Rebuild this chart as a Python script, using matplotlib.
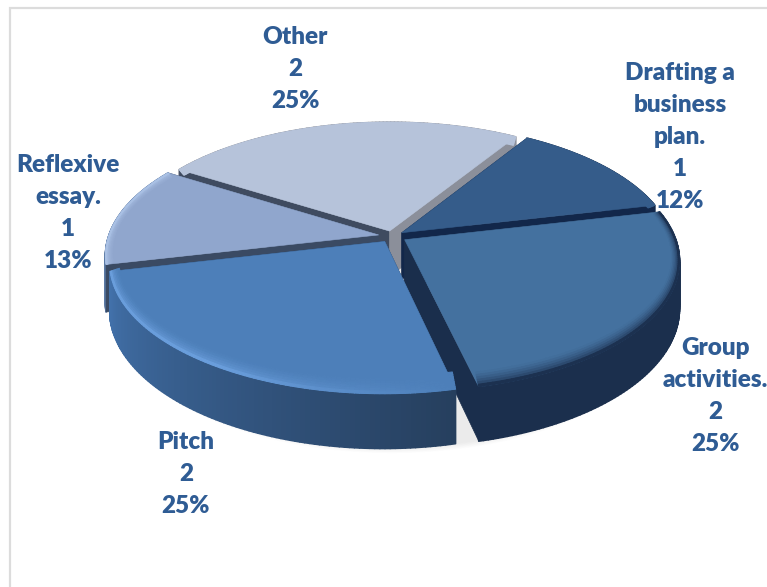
import numpy as np
import matplotlib
matplotlib.use("Agg")
import matplotlib.pyplot as plt
from matplotlib.collections import PolyCollection
from matplotlib.colors import to_rgb
from matplotlib.patches import Polygon

# slices clockwise, starting from the Other/Drafting boundary
names = ["Drafting a\nbusiness\nplan.", "Group\nactivities.", "Pitch", "Reflexive\nessay.", "Other"]
counts = [1, 2, 2, 1, 2]
percents = ["12%", "25%", "25%", "13%", "25%"]

START = 32.0      # degrees clockwise from the back of the pie
CX, CY = 392, 236
A, B, K = 270, 127, 0.154
DEPTH = 46
BEVEL_U, BEVEL_V = 0.03, 0.1
TEXT = "#2f5c94"

explode = [0.045, 0.055, 0.05, 0.05, 0.04]
# colours per slice: top, bevel at rim, wall start, wall end, radial wall
styles = [
    ("#355c8a", "#355c8a", "#1d3554", "#1d3554", "#12274a"),
    ("#44719f", "#1c3150", "#1b2f4d", "#1b2f4d", "#1a2e4c"),
    ("#4d7fb9", "#6a9edc", "#4271aa", "#263f5e", "#263f5e"),
    ("#90a6cd", "#a9c0e4", "#5b7aa5", "#5b7aa5", "#3a4a63"),
    ("#b6c3da", "#b6c3da", "#8b8f9a", "#8b8f9a", "#3f4b60"),
]
# back slices first, so the front ones cover them
draw_order = [4, 3, 0, 1, 2]
label_xy = [(680, 137), (715, 396), (186, 474), (68, 213), (295, 69)]


def project(u, v, z=0.0):
    s = 1 / (1 - K * v)
    return CX + A * u * s, CY + B * v * s + z * s


def mix(c1, c2, t):
    c1, c2 = np.array(to_rgb(c1)), np.array(to_rgb(c2))
    return tuple(c1 + (c2 - c1) * t)


fig = plt.figure(figsize=(7.67, 5.87), dpi=100)
ax = fig.add_axes([0, 0, 1, 1])
ax.set_xlim(0, 767)
ax.set_ylim(587, 0)
ax.axis("off")

# chart area border, open on the right and at the bottom
ax.plot([10, 10, 767], [587, 8, 8], color="#dcdcdc", lw=1.6, solid_joinstyle="miter")

total = sum(counts)
edges = START + np.cumsum([0] + counts) / total * 360

# soft shadow under the front of the pie
th = np.radians(np.linspace(0, 360, 200))
for grow in np.linspace(1.03, 1.0, 10):
    xs, ys = project(grow * np.sin(th), -grow * np.cos(th), DEPTH + 6)
    ax.add_patch(Polygon(np.c_[xs, ys], fc="k", ec="none", alpha=0.008, zorder=1))

zo = 2
for i in draw_order:
    top, bevel, wall0, wall1, radial = styles[i]
    a0, a1 = np.radians(edges[i]), np.radians(edges[i + 1])
    mid = (a0 + a1) / 2
    du, dv = explode[i] * np.sin(mid), -explode[i] * np.cos(mid)
    t = np.linspace(a0, a1, 100)
    us, vs = du + np.sin(t), dv - np.cos(t)

    # outer wall, shaded along the arc; on Pitch it has to sit over the cut faces
    quads, cols = [], []
    for j in range(len(t) - 1):
        quads.append([project(us[j], vs[j]), project(us[j + 1], vs[j + 1]),
                      project(us[j + 1], vs[j + 1], DEPTH), project(us[j], vs[j], DEPTH)])
        # Pitch is lit at its left end, which comes last on the clockwise arc
        w = j / (len(t) - 2)
        cols.append(mix(wall0, wall1, 1 - w if i == 2 else w))
    wall_z = zo + 2.5 if i == 2 else zo
    ax.add_collection(PolyCollection(quads, facecolors=cols, edgecolors=cols, lw=1.2, zorder=wall_z))
    zo += 1

    # cut faces on both sides of the slice, the hidden one ends up covered
    for a in (a0, a1):
        ue, ve = du + np.sin(a), dv - np.cos(a)
        quad = [project(du, dv), project(ue, ve), project(ue, ve, DEPTH), project(du, dv, DEPTH)]
        color = "#8b8f9a" if i == 4 and a == a1 else radial
        ax.add_patch(Polygon(quad, fc=color, ec=color, lw=0.5, zorder=zo))
        zo += 1

    # top face, then a shaded bevel strip along the rim
    zo += 1
    face = [project(du, dv)] + [project(u, v) for u, v in zip(us, vs)]
    ax.add_patch(Polygon(face, fc=top, ec=top, lw=0.4, zorder=zo))
    zo += 1
    steps = np.linspace(1, 0, 8)
    quads, cols = [], []
    for s0, s1 in zip(steps[:-1], steps[1:]):
        f = (1 - s0 / steps[0]) ** 1.5 if s1 > 0 else 1.0
        for j in range(len(t) - 1):
            p = [(s0, t[j]), (s0, t[j + 1]), (s1, t[j + 1]), (s1, t[j])]
            quads.append([project(du + (1 - s * BEVEL_U) * np.sin(x), dv - (1 - s * BEVEL_V) * np.cos(x))
                          for s, x in p])
            # the highlight on Pitch fades out towards its right end
            w = min(1, 2 * j / (len(t) - 2)) if i == 2 else 1
            cols.append(mix(top, bevel, f * w))
    ax.add_collection(PolyCollection(quads, facecolors=cols, edgecolors=cols, lw=0.8, zorder=zo))
    zo += 1

for name, count, pct, (x, y) in zip(names, counts, percents, label_xy):
    ax.text(x, y, f"{name}\n{count}\n{pct}", ha="center", va="center", color=TEXT,
            family="Lato", weight="heavy", fontsize=17.5, linespacing=1.56, zorder=zo)

fig.savefig("out.png", dpi=100)
